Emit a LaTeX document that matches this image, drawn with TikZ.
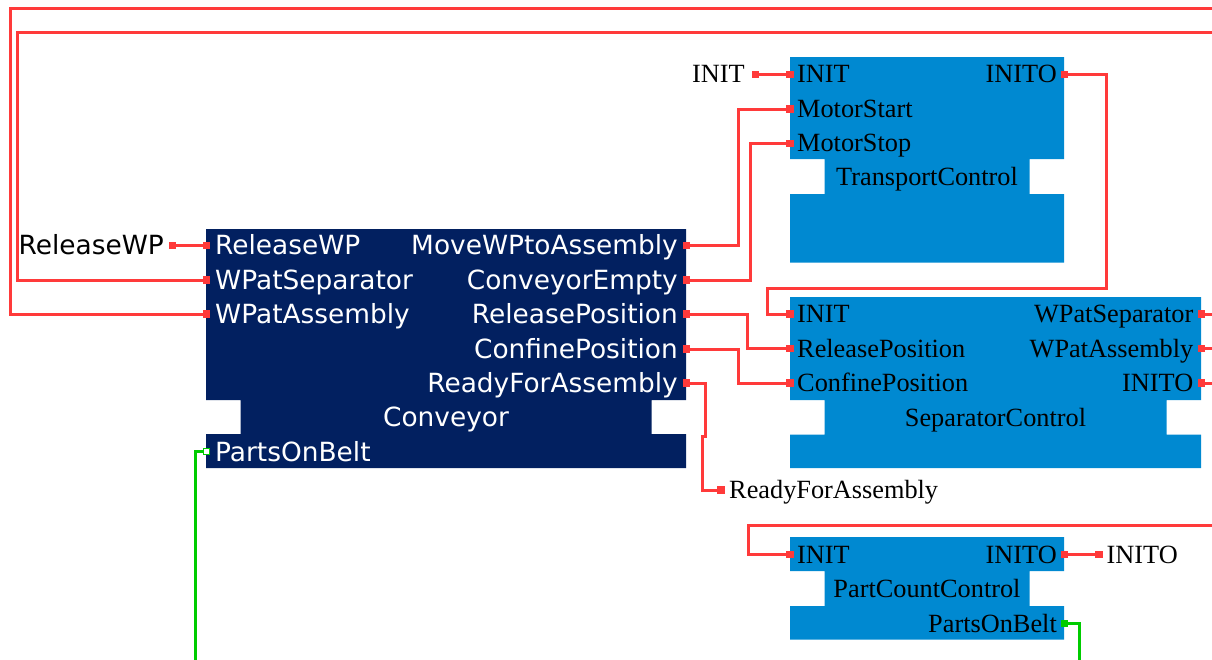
\documentclass[tikz,border=0pt]{standalone}
\usepackage{fontspec}
\setmainfont{Liberation Serif}
\newfontfamily\djv{DejaVu Sans}
\definecolor{navyfb}{RGB}{2,32,96}
\definecolor{bluefb}{RGB}{0,137,209}
\definecolor{wirered}{RGB}{255,58,58}
\definecolor{wiregreen}{RGB}{0,204,0}
\newcommand\fbshape[7]{\fill[#1] (#2,#3) -- (#4,#3) -- (#4,#6) -- ({#4-34.5},#6) -- ({#4-34.5},#7) -- (#4,#7) -- (#4,#5) -- (#2,#5) -- (#2,#7) -- ({#2+34.5},#7) -- ({#2+34.5},#6) -- (#2,#6) -- cycle;}
\tikzset{
  sansfont/.style={font=\djv\fontsize{26.4}{30}\selectfont, inner sep=0pt},
  seriffont/.style={font=\fontsize{26.3}{30}\selectfont, inner sep=0pt},
  cvL/.style={sansfont, text=white, anchor=base west, yshift=-9.6pt},
  cvR/.style={sansfont, text=white, anchor=base east, yshift=-9.6pt},
  cvC/.style={sansfont, text=white, anchor=base, yshift=-9.6pt},
  exS/.style={sansfont, text=black, anchor=base east, yshift=-9.6pt},
  fbL/.style={seriffont, anchor=base west, yshift=-8.6pt},
  fbR/.style={seriffont, anchor=base east, yshift=-8.6pt},
  fbC/.style={seriffont, anchor=base, yshift=-8.6pt},
  pin/.style={rectangle, fill=wirered, draw=none, minimum size=7.5pt, inner sep=0pt},
  gpin/.style={rectangle, fill=wiregreen, draw=none, minimum size=7.5pt, inner sep=0pt},
  gpinhollow/.style={rectangle, fill=white, draw=wiregreen, line width=1.3pt, minimum size=6pt, inner sep=0pt},
  wire/.style={draw=wirered, line width=3pt},
  gwire/.style={draw=wiregreen, line width=3pt}
}
\begin{document}
\begin{tikzpicture}[x=1pt,y=-1pt]
\useasboundingbox (0,0) rectangle (1212,659);
\clip (0,0) rectangle (1212,659);

% ---------- blocks ----------
\fbshape{navyfb}{206}{229}{686}{468}{400}{434}
\fbshape{bluefb}{790}{57}{1064}{262.5}{159}{194}
\fbshape{bluefb}{790}{297}{1201}{468}{400}{434.5}
\fbshape{bluefb}{790}{537}{1064}{639.5}{571}{606}

% ---------- Conveyor ----------
\node[cvL] (cvt1) at (215,245) {ReleaseWP};
\node[cvL] (cvt2) at (215,280) {WPatSeparator};
\node[cvL] (cvt3) at (215,314) {WPatAssembly};
\node[cvL] (cvt4) at (215,452) {PartsOnBelt};
\node[cvR] (cvt5) at (678,245) {MoveWPtoAssembly};
\node[cvR] (cvt6) at (678,280) {ConveyorEmpty};
\node[cvR] (cvt7) at (678,314) {ReleasePosition};
\node[cvR] (cvt8) at (678,349) {ConfinePosition};
\node[cvR] (cvt9) at (678,383) {ReadyForAssembly};
\node[cvC] (cvname) at (446,417) {Conveyor};

\node[pin] (cvi1) at (206.5,245.5) {};
\node[pin] (cvi2) at (206.5,280) {};
\node[pin] (cvi3) at (206.5,314) {};
\node[gpinhollow] (cvi4) at (206.5,451.5) {};
\node[pin] (cvo1) at (686.5,245.5) {};
\node[pin] (cvo2) at (686.5,280) {};
\node[pin] (cvo3) at (686.5,314) {};
\node[pin] (cvo4) at (686.5,349) {};
\node[pin] (cvo5) at (686.5,383) {};

% ---------- TransportControl ----------
\node[fbL] (tct1) at (797,74.3) {INIT};
\node[fbL] (tct2) at (797,109) {MotorStart};
\node[fbL] (tct3) at (797,143.3) {MotorStop};
\node[fbR] (tct4) at (1057,74.3) {INITO};
\node[fbC] (tcname) at (927,176.7) {TransportControl};
\node[pin] (tci1) at (790,74.3) {};
\node[pin] (tci2) at (790,109) {};
\node[pin] (tci3) at (790,143.3) {};
\node[pin] (tco1) at (1064.5,74.3) {};

% ---------- SeparatorControl ----------
\node[fbL] (sct1) at (797,314) {INIT};
\node[fbL] (sct2) at (797,348.5) {ReleasePosition};
\node[fbL] (sct3) at (797,383) {ConfinePosition};
\node[fbR] (sct4) at (1193.5,314) {WPatSeparator};
\node[fbR] (sct5) at (1193.5,348.5) {WPatAssembly};
\node[fbR] (sct6) at (1193.5,383) {INITO};
\node[fbC] (scname) at (995.5,417.5) {SeparatorControl};
\node[pin] (sci1) at (790,314) {};
\node[pin] (sci2) at (790,348.5) {};
\node[pin] (sci3) at (790,383) {};
\node[pin] (sco1) at (1201.5,314) {};
\node[pin] (sco2) at (1201.5,348.5) {};
\node[pin] (sco3) at (1201.5,383) {};

% ---------- PartCountControl ----------
\node[fbL] (pct1) at (797,554.5) {INIT};
\node[fbR] (pct2) at (1057,554.5) {INITO};
\node[fbC] (pcname) at (927,589) {PartCountControl};
\node[fbR] (pct3) at (1057,623.5) {PartsOnBelt};
\node[pin] (pci1) at (790,554.5) {};
\node[pin] (pco1) at (1064.5,554.5) {};
\node[gpin] (pco2) at (1064.5,623.5) {};

% ---------- external variables ----------
\node[exS] (exrel) at (164,245) {ReleaseWP};
\node[pin] (exrelp) at (172.5,245.5) {};
\node[fbR] (exinit) at (745,74.3) {INIT};
\node[pin] (exinitp) at (755.5,74.3) {};
\node[fbL] (exready) at (729,490) {ReadyForAssembly};
\node[pin] (exreadyp) at (721,490) {};
\node[fbL] (exinito) at (1106.5,554.5) {INITO};
\node[pin] (exinitop) at (1099,554.5) {};

% ---------- connections ----------
\draw[wire] (exrelp) -- (cvi1);
\draw[wire] (exinitp) -- (tci1);
\draw[wire] (pco1) -- (exinitop);
\draw[wire] (cvo1) -- ++(52,0) |- (tci2);
\draw[wire] (cvo2) -- ++(64,0) |- (tci3);
\draw[wire] (cvo3) -- ++(60.5,0) |- (sci2);
\draw[wire] (cvo4) -- ++(51.5,0) |- (sci3);
\draw[wire] (cvo5) -- ++(18.5,0) -- ++(0,53) -- ++(-3,0) |- (exreadyp);
\draw[wire] (tco1) -- ++(41.5,0) -- ++(0,214) -| (767,314) -- (sci1);
\draw[wire] (sco1) -- ++(30,0) -- ++(0,-282) -| (17,280) -- (cvi2);
\draw[wire] (sco2) -- ++(50,0) -- ++(0,-340.5) -| (10,314) -- (cvi3);
\draw[wire] (sco3) -- ++(20,0) -- ++(0,142.5) -| (748,554.5) -- (pci1);
\draw[gwire] (pco2) -- ++(14.5,0) -- ++(0,60) -| (195.5,451.5) -- (cvi4);
\end{tikzpicture}
\end{document}
